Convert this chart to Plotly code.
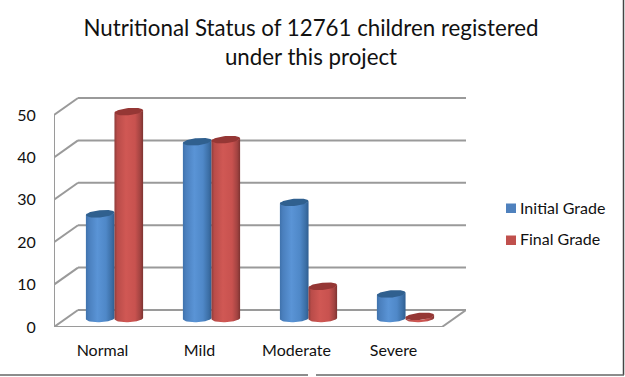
import numpy as np
import plotly.graph_objects as go

title_text = "Nutritional Status of 12761 children registered<br>under this project"
categories = ["Normal", "Mild", "Moderate", "Severe"]
initial_grade = [24.7, 41.7, 27.4, 5.8]
final_grade = [48.8, 42.2, 7.6, 0.5]
y_ticks = [0, 10, 20, 30, 40, 50]

FONT = "Lato, Carlito, Calibri, sans-serif"
W, H = 625, 377
L, R, T, B = 54, 466, 97, 327
PX_X = 97.0
PX_Y = 4.24
DX = 24 / PX_X      # depth of the floor, in x units
DY = 17 / PX_Y      # depth of the floor, in y units
BASE = 8.5 / PX_Y   # cylinders stand half-way into the floor
BAR_W = 28.6 / PX_X
RY = 3.6 / PX_Y
xpos = np.arange(len(categories))
X0 = -0.5
X1 = X0 + (R - L) / PX_X
Y1 = (B - T) / PX_Y
FRONT_RIGHT = X0 + len(categories)

BLUE_SCALE = [[0, "#3f72ac"], [0.1, "#4a7fbd"], [0.4, "#5a94d6"], [0.7, "#4f88c8"],
              [0.9, "#3c6fa6"], [1, "#305e90"]]
RED_SCALE = [[0, "#8f3d3b"], [0.1, "#b94c49"], [0.4, "#d05854"], [0.72, "#c8524f"],
             [0.9, "#a24341"], [1, "#7d3331"]]

fig = go.Figure()

series = [("Initial Grade", initial_grade, "#4F81BD", BLUE_SCALE, "#30608F", -1),
          ("Final Grade", final_grade, "#C0504D", RED_SCALE, "#953735", 0)]

# Real bars carry the values; the cylinder skin goes on top
for name, vals, col, _, _, side in series:
    fig.add_trace(go.Bar(
        x=xpos, y=vals, base=[BASE] * len(vals), name=name, marker=dict(color=col, line_width=0),
        offset=DX / 2 + side * BAR_W + 0.004, width=BAR_W - 0.008,
        showlegend=False, hoverinfo="skip"))
    # Legend label; its swatch is drawn as a shape because the native one sits too far from the text
    fig.add_trace(go.Scatter(
        x=[None], y=[None], name=name, mode="markers", legendgroup=name,
        marker=dict(size=10, symbol="square", color="rgba(0,0,0,0)"), hoverinfo="skip"))


def cylinder(cx, val, scale, cap):
    a = BAR_W / 2
    t = np.linspace(0, np.pi, 30)
    tilt_top, tilt_bot = 1.3 / PX_Y, 0.6 / PX_Y
    top_y = BASE + val
    xs_bot = cx + a * np.cos(t)
    ys_bot = BASE - RY * np.sin(t) + tilt_bot * np.cos(t)
    xs_top = cx - a * np.cos(t)
    ys_top = top_y - RY * np.sin(t) - tilt_top * np.cos(t)
    fig.add_trace(go.Scatter(
        x=np.r_[xs_bot, xs_top, xs_bot[0]], y=np.r_[ys_bot, ys_top, ys_bot[0]],
        mode="lines", line=dict(width=0), fill="toself",
        fillgradient=dict(type="horizontal", colorscale=scale, start=cx - a, stop=cx + a),
        showlegend=False, hoverinfo="skip"))
    u = np.linspace(0, 2 * np.pi, 60)
    fig.add_trace(go.Scatter(
        x=cx + a * np.cos(u), y=top_y + RY * np.sin(u) + tilt_top * np.cos(u),
        mode="lines", line=dict(width=0), fill="toself", fillcolor=cap,
        showlegend=False, hoverinfo="skip"))


for i in range(len(categories)):
    for name, vals, col, scale, cap, side in series:
        cylinder(xpos[i] + DX / 2 + (side + 0.5) * BAR_W, vals[i], scale, cap)

# Chart box: floor, side wall and back wall drawn in axis coordinates
wall = dict(color="#9a9a9a", width=2)
shapes = []
for v in y_ticks:
    shapes.append(dict(type="line", xref="x", yref="y", x0=X0, y0=v, x1=X0 + DX, y1=v + DY,
                       line=wall, layer="below"))
    shapes.append(dict(type="line", xref="x", yref="y", x0=X0 + DX, y0=v + DY, x1=X1, y1=v + DY,
                       line=wall, layer="below"))
shapes.append(dict(type="line", xref="x", yref="y", x0=X0, y0=0, x1=X0, y1=y_ticks[-1],
                   line=wall, layer="below"))
shapes.append(dict(type="line", xref="x", yref="y", x0=X0, y0=0, x1=FRONT_RIGHT, y1=0,
                   line=wall, layer="below"))
shapes.append(dict(type="line", xref="x", yref="y", x0=FRONT_RIGHT, y0=0, x1=X1, y1=DY,
                   line=wall, layer="below"))


def px(x):
    return (x - L) / (R - L)


def py(y):
    return (B - y) / (B - T)


# Screenshot frame
shapes += [
    dict(type="line", xref="paper", yref="paper", x0=px(623.5), x1=px(623.5),
         y0=py(375), y1=py(0), line=dict(color="#444444", width=1.5)),
    dict(type="line", xref="paper", yref="paper", x0=px(0), x1=px(308),
         y0=py(375), y1=py(375), line=dict(color="#666666", width=1.5)),
    dict(type="line", xref="paper", yref="paper", x0=px(316), x1=px(624),
         y0=py(375), y1=py(375), line=dict(color="#666666", width=1.5)),
]
# Legend swatches
for (_, _, col, _, _, _), (y0, y1) in zip(series, [(203.5, 213), (235.5, 245)]):
    shapes.append(dict(type="rect", xref="paper", yref="paper", x0=px(506), x1=px(516),
                       y0=py(y1), y1=py(y0), fillcolor=col, line_width=0))

fig.update_layout(
    width=W, height=H, autosize=False,
    margin=dict(l=L, r=W - R, t=T, b=H - B, pad=0),
    paper_bgcolor="white", plot_bgcolor="white",
    font=dict(family=FONT, color="#111111"),
    barmode="overlay",
    title=dict(text=title_text, font=dict(size=22.3, family=FONT, color="#111111"),
               x=311 / W, xanchor="center", y=1 - 36 / H, yanchor="middle"),
    xaxis=dict(range=[X0, X1], tickmode="array", tickvals=list(xpos), ticktext=categories,
               automargin=False, showgrid=False, zeroline=False, showline=False,
               ticks="outside", ticklen=9, tickcolor="rgba(0,0,0,0)",
               tickfont=dict(size=16, family=FONT, color="#111111")),
    yaxis=dict(range=[0, Y1], tickmode="array", tickvals=y_ticks,
               automargin=False, showgrid=False, zeroline=False, showline=False,
               ticks="outside", ticklen=14, tickcolor="rgba(0,0,0,0)",
               tickfont=dict(size=16, family=FONT, color="#111111")),
    legend=dict(x=480 / W, xref="container", y=1 - 191 / H, yref="container",
                xanchor="left", yanchor="top",
                font=dict(size=16, family=FONT, color="#111111"), tracegroupgap=7,
                bgcolor="rgba(0,0,0,0)", itemclick=False, itemdoubleclick=False),
    shapes=shapes,
)
fig.write_html("out.html", config=dict(displayModeBar=False),
               post_script="document.body.style.margin='0';")
